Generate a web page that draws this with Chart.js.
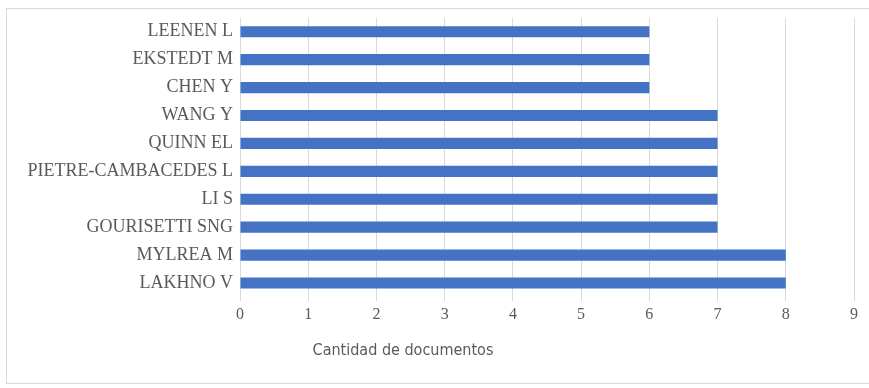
<!DOCTYPE html>
<html>
<head>
<meta charset="utf-8">
<script src="https://cdn.jsdelivr.net/npm/chart.js@4/dist/chart.umd.min.js"></script>
<style>
  html, body { margin: 0; padding: 0; background: #fff; }
  #wrap { position: relative; width: 869px; height: 388px; overflow: hidden; }
  #frame { position: absolute; left: 6px; top: 8px; width: 880px; height: 376px; border: 1px solid #d9d9d9; box-sizing: border-box; pointer-events: none; }
  canvas { position: absolute; left: 0; top: 0; }
</style>
</head>
<body>
<div id="wrap">
  <canvas id="c" width="869" height="388"></canvas>
  <div id="frame"></div>
</div>
<script>
// Authors and their document counts, listed top to bottom
const authors = [
  'LEENEN L', 'EKSTEDT M', 'CHEN Y', 'WANG Y', 'QUINN EL',
  'PIETRE-CAMBACEDES L', 'LI S', 'GOURISETTI SNG', 'MYLREA M', 'LAKHNO V'
];
const documentCounts = [6, 6, 6, 7, 7, 7, 7, 7, 8, 8];
const xTicks = [0, 1, 2, 3, 4, 5, 6, 7, 8, 9];
const xTitle = 'Cantidad de documentos';

const labelColor = '#595959';

// Draws the axis title below the value axis
const axisTitlePlugin = {
  id: 'axisTitle',
  afterDraw(chart) {
    const ctx = chart.ctx;
    ctx.save();
    ctx.font = '16px "Liberation Sans Narrow", "DejaVu Sans Condensed", sans-serif';
    ctx.fillStyle = labelColor;
    ctx.textAlign = 'center';
    ctx.textBaseline = 'middle';
    ctx.fillText(xTitle, 403, 351);
    ctx.restore();
  }
};

new Chart(document.getElementById('c'), {
  type: 'bar',
  data: {
    labels: authors,
    datasets: [{
      data: documentCounts,
      backgroundColor: '#4472C4',
      borderWidth: 0,
      categoryPercentage: 1,
      barPercentage: 0.4
    }]
  },
  options: {
    indexAxis: 'y',
    responsive: false,
    animation: false,
    layout: { padding: { left: 0, right: 15, top: 16, bottom: 11 } },
    plugins: { legend: { display: false }, tooltip: { enabled: false } },
    scales: {
      x: {
        min: 0,
        max: 9,
        afterBuildTicks(scale) { scale.ticks = xTicks.map(v => ({ value: v })); },
        afterFit(scale) { scale.height = 80; },
        grid: { color: '#d9d9d9', lineWidth: 1, drawTicks: true, tickLength: 4 },
        border: { display: false },
        ticks: {
          color: labelColor,
          padding: 4,
          font: { family: '"Liberation Serif", serif', size: 16 }
        }
      },
      y: {
        afterFit(scale) { scale.width = 240; },
        grid: { display: false, drawTicks: false },
        border: { display: false },
        ticks: {
          color: labelColor,
          padding: 7,
          autoSkip: false,
          font: { family: '"Liberation Serif", serif', size: 18 }
        }
      }
    }
  },
  plugins: [axisTitlePlugin]
});
</script>
</body>
</html>
